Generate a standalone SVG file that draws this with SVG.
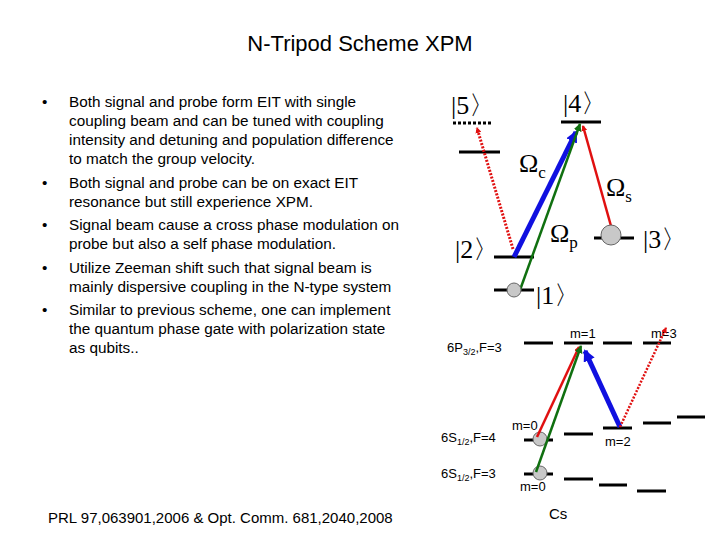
<svg xmlns="http://www.w3.org/2000/svg" width="720" height="540" viewBox="0 0 720 540">
<style>
text{font-family:"Liberation Sans",Arial,sans-serif;fill:#000}
.b{font-size:15.3px}
.k{font-family:"Liberation Serif",serif;font-size:26px}
.s{font-size:13px}
.lv{stroke:#000;stroke-width:3}
</style>
<defs>
<marker id="ar" markerWidth="6" markerHeight="6" refX="5" refY="3" orient="auto" markerUnits="userSpaceOnUse"><path d="M0,0L6,3L0,6z" fill="#e01010"/></marker>
<marker id="ab" markerWidth="12" markerHeight="12" refX="10" refY="6" orient="auto" markerUnits="userSpaceOnUse"><path d="M0,0L12,6L0,12z" fill="#1010e0"/></marker>
<marker id="ag" markerWidth="8" markerHeight="8" refX="7" refY="4" orient="auto" markerUnits="userSpaceOnUse"><path d="M0,0L8,4L0,8z" fill="#107010"/></marker>
</defs>
<rect width="720" height="540" fill="#fff"/>
<text x="360" y="51" font-size="22" text-anchor="middle">N-Tripod Scheme XPM</text>
<g id="bullets" class="b">
<text x="42" y="107">•</text><text x="42" y="188">•</text><text x="42" y="230">•</text><text x="42" y="273">•</text><text x="42" y="315">•</text>
<text x="69" y="107">Both signal and probe form EIT with single</text>
<text x="69" y="126">coupling beam and can be tuned with coupling</text>
<text x="69" y="145">intensity and detuning and population difference</text>
<text x="69" y="164">to match the group velocity.</text>
<text x="69" y="188">Both signal and probe can be on exact EIT</text>
<text x="69" y="207">resonance but still experience XPM.</text>
<text x="69" y="230">Signal beam cause a cross phase modulation on</text>
<text x="69" y="249">probe but also a self phase modulation.</text>
<text x="69" y="273">Utilize Zeeman shift such that signal  beam is</text>
<text x="69" y="292">mainly dispersive coupling in the N-type system</text>
<text x="69" y="315">Similar to previous scheme, one can implement</text>
<text x="69" y="334">the quantum phase gate with polarization state</text>
<text x="69" y="353">as qubits..</text>
</g>
<text x="48" y="523" font-size="15">PRL 97,063901,2006 &amp; Opt. Comm. 681,2040,2008</text>
<g id="levels-top">
<line class="lv" x1="453" y1="123" x2="492" y2="123" stroke-dasharray="3,2"/>
<line class="lv" x1="459" y1="152" x2="500" y2="152"/>
<line class="lv" x1="561" y1="122" x2="601" y2="122"/>
<line class="lv" x1="494" y1="257" x2="534" y2="257"/>
<line class="lv" x1="494" y1="290" x2="534" y2="290"/>
<line class="lv" x1="594" y1="238" x2="634" y2="238"/>
<text class="k" x="451" y="114">|5〉</text>
<text class="k" x="563" y="112">|4〉</text>
<text class="k" x="455" y="258">|2〉</text>
<text class="k" x="643" y="248">|3〉</text>
<text class="k" x="536" y="304">|1〉</text>
<text class="k" x="519" y="172">Ω<tspan font-size="17" dy="6">c</tspan></text>
<text class="k" x="606" y="196">Ω<tspan font-size="17" dy="6">s</tspan></text>
<text class="k" x="550" y="242">Ω<tspan font-size="17" dy="6">p</tspan></text>
</g>
<g id="connectors-top">
<line x1="513" y1="249" x2="477" y2="128" stroke="#e01010" stroke-width="3" stroke-dasharray="2,1.5" marker-end="url(#ar)"/>
<line x1="514" y1="257" x2="576" y2="132" stroke="#1010e0" stroke-width="5" marker-end="url(#ab)"/>
<line x1="520" y1="290" x2="580" y2="124" stroke="#107010" stroke-width="2.5" marker-end="url(#ag)"/>
<line x1="611" y1="226" x2="583" y2="126" stroke="#e01010" stroke-width="2.5" marker-end="url(#ar)"/>
<circle cx="514" cy="290" r="7" fill="#c8c8c8" stroke="#666"/>
<circle cx="611" cy="235" r="10" fill="#c8c8c8" stroke="#666"/>
</g>
<g id="levels-bottom" class="s">
<g class="lv">
<line x1="524" y1="343" x2="553" y2="343"/><line x1="564" y1="343" x2="593" y2="343"/><line x1="603" y1="343" x2="632" y2="343"/><line x1="643" y1="343" x2="671" y2="343"/>
<line x1="524" y1="440" x2="553" y2="440"/><line x1="564" y1="434" x2="593" y2="434"/><line x1="603" y1="428" x2="632" y2="428"/><line x1="643" y1="423" x2="671" y2="423"/><line x1="677" y1="417" x2="705" y2="417"/>
<line x1="524" y1="474" x2="553" y2="474"/><line x1="564" y1="479" x2="593" y2="479"/><line x1="599" y1="485" x2="627" y2="485"/><line x1="637" y1="491" x2="666" y2="491"/>
</g>
<text x="447" y="352">6P<tspan font-size="9" dy="3">3/2</tspan><tspan dy="-3">,F=3</tspan></text>
<text x="441" y="442">6S<tspan font-size="9" dy="3">1/2</tspan><tspan dy="-3">,F=4</tspan></text>
<text x="441" y="478">6S<tspan font-size="9" dy="3">1/2</tspan><tspan dy="-3">,F=3</tspan></text>
<text x="570" y="338">m=1</text>
<text x="651" y="338">m=3</text>
<text x="512" y="430">m=0</text>
<text x="520" y="491">m=0</text>
<text x="605" y="446">m=2</text>
<text x="549" y="519" font-size="15">Cs</text>
</g>
<g id="connectors-bottom">
<circle cx="540" cy="439" r="7" fill="#c8c8c8" stroke="#666"/>
<circle cx="540" cy="473" r="7" fill="#c8c8c8" stroke="#666"/>
<line x1="537" y1="437" x2="579" y2="347" stroke="#e01010" stroke-width="2.5" marker-end="url(#ar)"/>
<line x1="536" y1="472" x2="581" y2="346" stroke="#107010" stroke-width="2.5" marker-end="url(#ag)"/>
<line x1="620" y1="427" x2="585" y2="351" stroke="#1010e0" stroke-width="5" marker-end="url(#ab)"/>
<line x1="620" y1="427" x2="666" y2="328" stroke="#e01010" stroke-width="2.5" stroke-dasharray="2,1.5" marker-end="url(#ar)"/>
</g>
</svg>
